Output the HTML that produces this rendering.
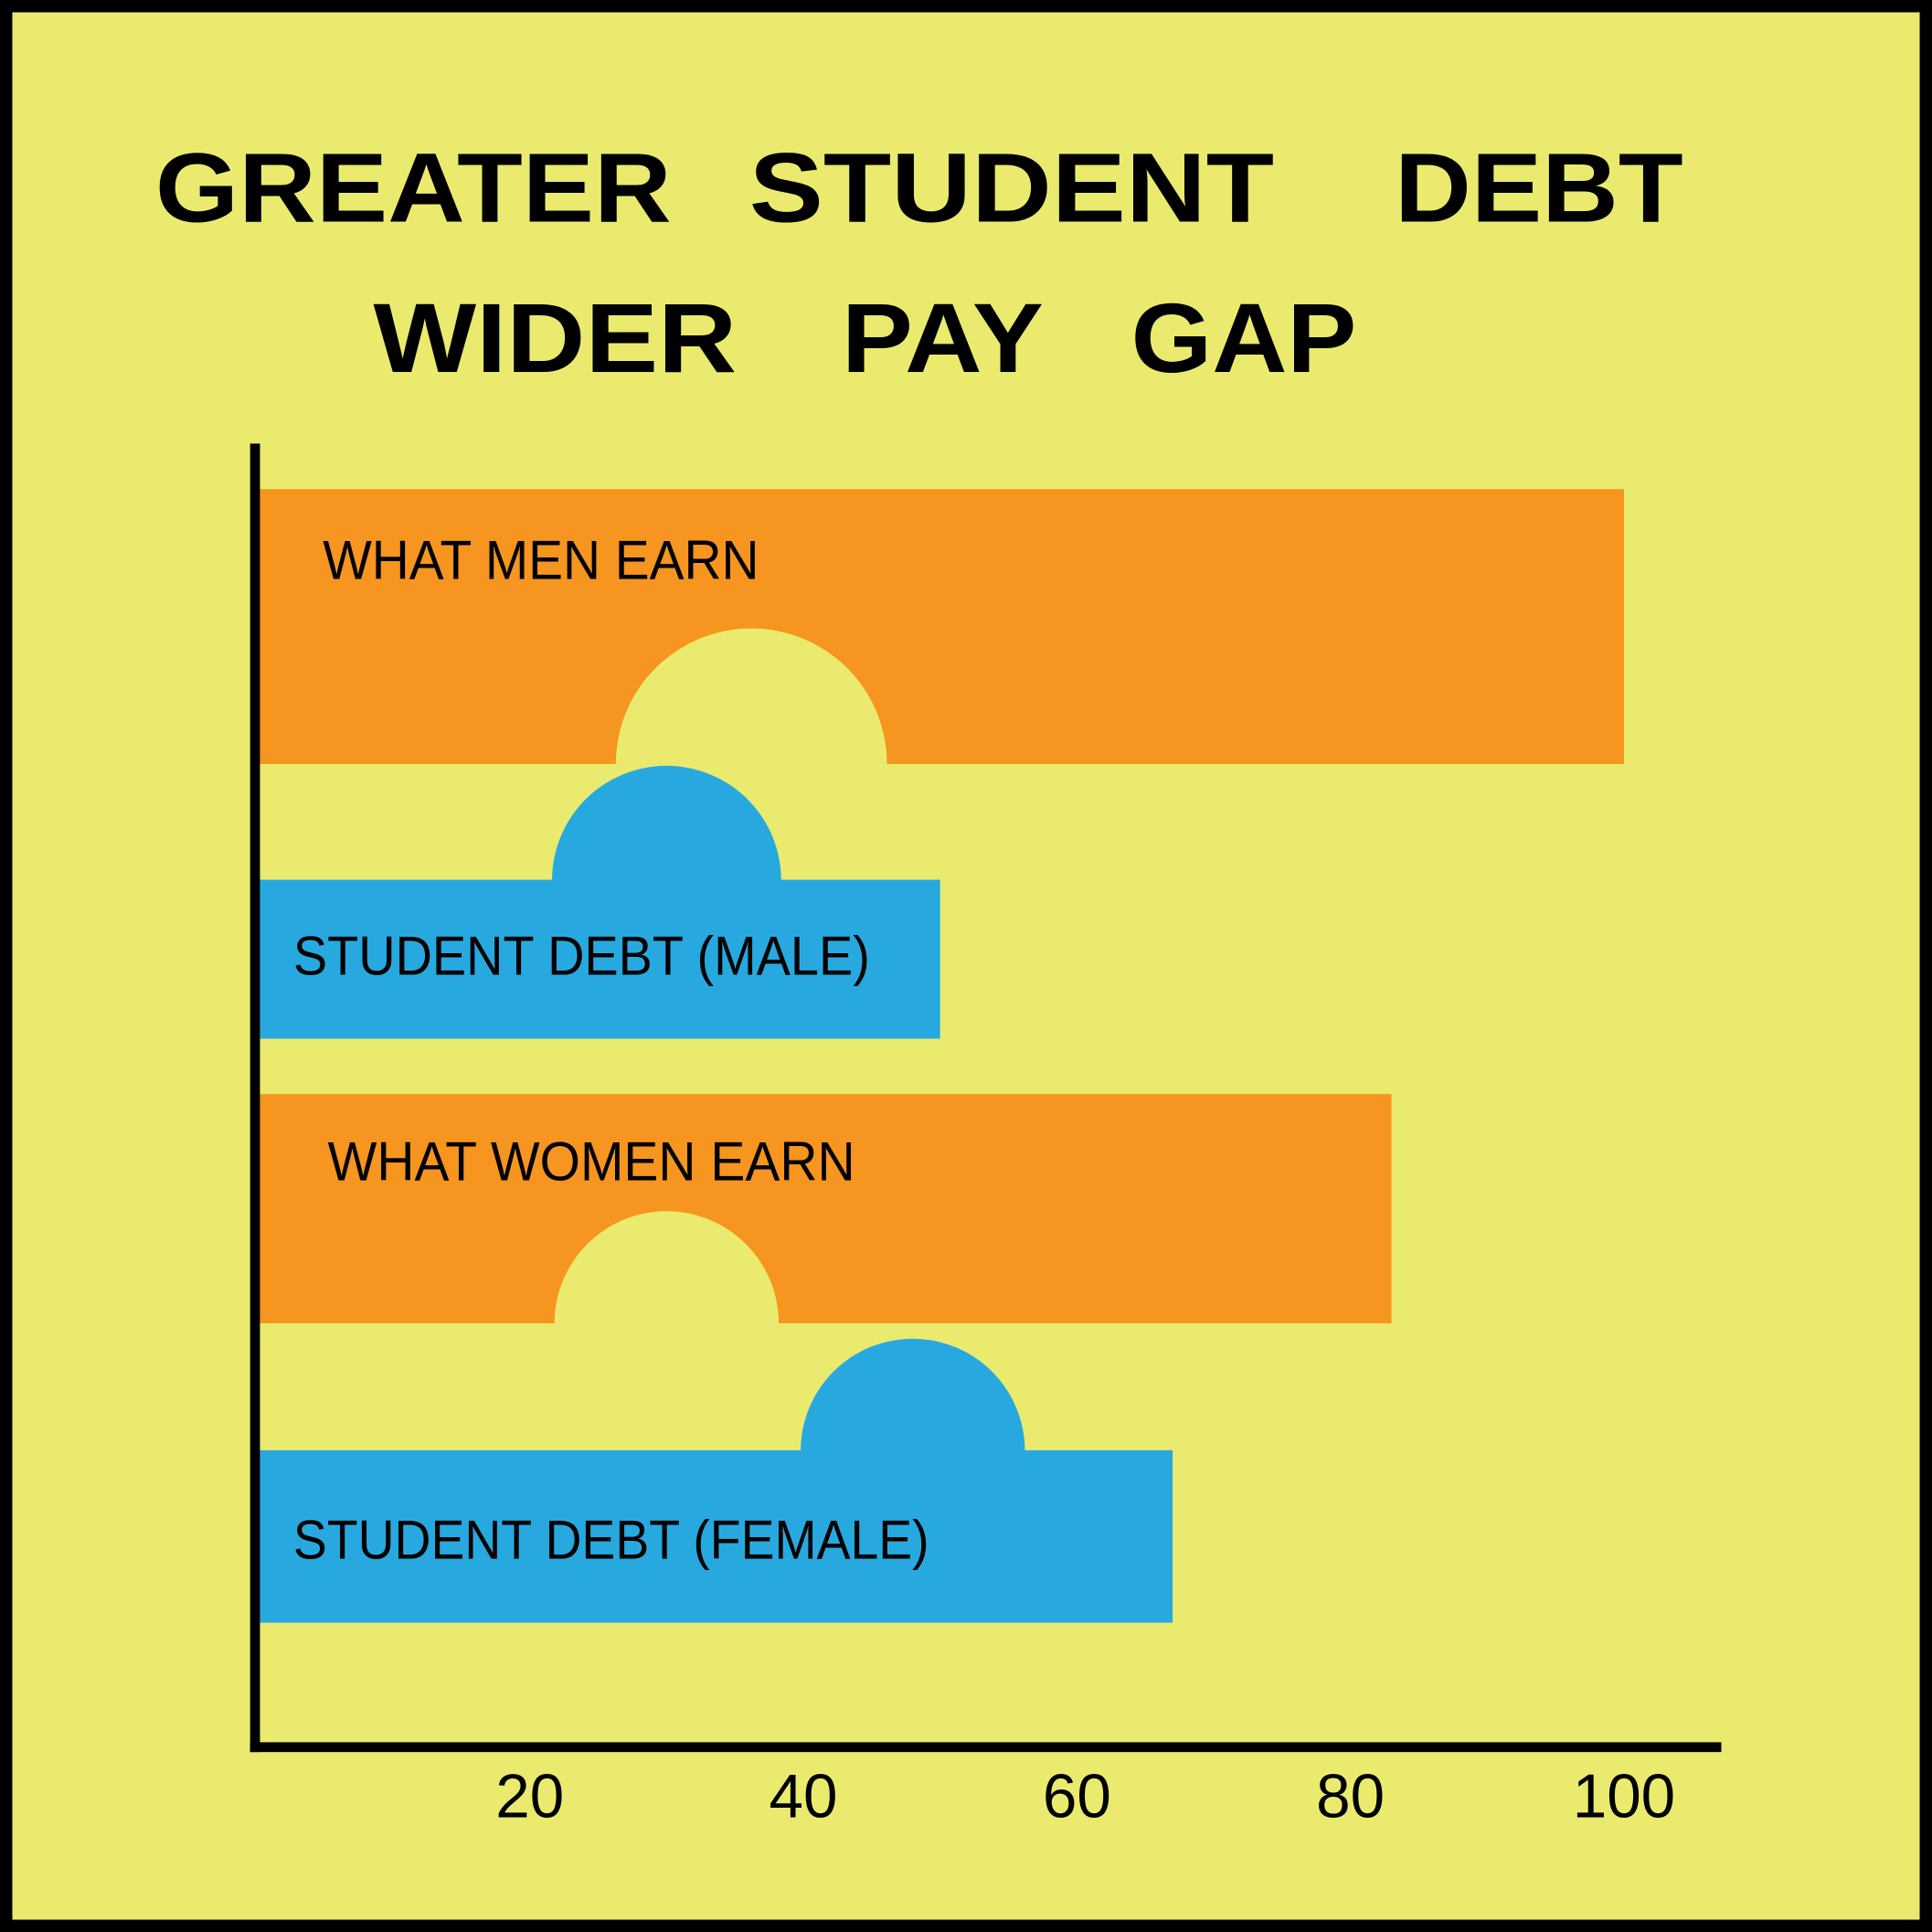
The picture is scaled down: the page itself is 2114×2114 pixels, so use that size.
<!DOCTYPE html>
<html><head><meta charset="utf-8"><style>
html,body{margin:0;padding:0;background:#000;}
svg{display:block;}
text{font-family:"Liberation Sans",sans-serif;}
</style></head><body>
<svg id="chart" width="2114" height="2114" viewBox="0 0 1568 1568" xmlns="http://www.w3.org/2000/svg">
<rect x="0" y="0" width="1568" height="1568" fill="#000"/>
<rect x="10" y="10" width="1548" height="1548" fill="#EAEB6E"/>
<g font-weight="bold" font-size="80" fill="#000">
<text x="126" y="180" textLength="419" lengthAdjust="spacingAndGlyphs">GREATER</text>
<text x="608" y="180" textLength="426" lengthAdjust="spacingAndGlyphs">STUDENT</text>
<text x="1132" y="180" textLength="234" lengthAdjust="spacingAndGlyphs">DEBT</text>
<text x="303" y="302" textLength="295" lengthAdjust="spacingAndGlyphs">WIDER</text>
<text x="683" y="302" textLength="164" lengthAdjust="spacingAndGlyphs">PAY</text>
<text x="918" y="302" textLength="183" lengthAdjust="spacingAndGlyphs">GAP</text>
</g>
<g id="bars"></g>
<g id="axes"></g>
</svg>
<script>
const categories = ["WHAT MEN EARN", "STUDENT DEBT (MALE)", "WHAT WOMEN EARN", "STUDENT DEBT (FEMALE)"];
const kinds = ["earn", "debt", "earn", "debt"];
const values = [100, 50, 83, 67];
const markerValues = [36.2, 30, 30, 48];
const tickValues = [20, 40, 60, 80, 100];
const tickLabels = ["20", "40", "60", "80", "100"];

const NS = "http://www.w3.org/2000/svg";
const x0 = 208, pxPer = 11.1;
function xScale(v){ return x0 + v * pxPer; }
const layout = [
  {top:397, bottom:620, r:110, labelY:470, labelX:262, labelW:354},
  {top:714, bottom:843, r:93, labelY:791, labelX:238, labelW:468},
  {top:888, bottom:1074, r:91, labelY:958, labelX:266, labelW:428},
  {top:1177, bottom:1317, r:91, labelY:1265, labelX:238, labelW:516}
];
const colors = {earn:"#F6951F", debt:"#27A9E0"};
const bg = "#EAEB6E";
const bars = document.getElementById("bars");
function mk(tag, attrs){ const e=document.createElementNS(NS,tag); for(const k in attrs) e.setAttribute(k, attrs[k]); return e; }

categories.forEach((c,i)=>{
  const L = layout[i], k = kinds[i];
  const g = mk("g", {});
  
  
  const rect = mk("rect", {x:211, y:L.top, width:xScale(values[i])-211, height:L.bottom-L.top, fill:colors[k]});
  
  
  g.appendChild(rect);
  const cx = xScale(markerValues[i]);
  let d, fill;
  if(k === "earn"){
    d = `M ${cx-L.r} ${L.bottom} A ${L.r} ${L.r} 0 0 1 ${cx+L.r} ${L.bottom} Z`;
    fill = bg;
  } else {
    d = `M ${cx-L.r} ${L.top+0.5} A ${L.r} ${L.r} 0 0 1 ${cx+L.r} ${L.top+0.5} Z`;
    fill = colors[k];
  }
  const semi = mk("path", {d:d, fill:fill});
  
  
  g.appendChild(semi);
  const t = mk("text", {x:L.labelX, y:L.labelY, "font-size":45, fill:"#000", textLength:L.labelW, lengthAdjust:"spacingAndGlyphs"});
  t.textContent = c;
  
  
  g.appendChild(t);
  bars.appendChild(g);
});

const axes = document.getElementById("axes");
const yAxis = mk("line", {x1:207, y1:360, x2:207, y2:1422, stroke:"#000", "stroke-width":8});


axes.appendChild(yAxis);
const xAxis = mk("line", {x1:203, y1:1418, x2:1397, y2:1418, stroke:"#000", "stroke-width":8});


axes.appendChild(xAxis);
tickValues.forEach((v,i)=>{
  const t = mk("text", {x:xScale(v), y:1475, "font-size":50, "text-anchor":"middle", fill:"#000"});
  t.textContent = tickLabels[i];
  
  
  axes.appendChild(t);
});
</script>
</body></html>
